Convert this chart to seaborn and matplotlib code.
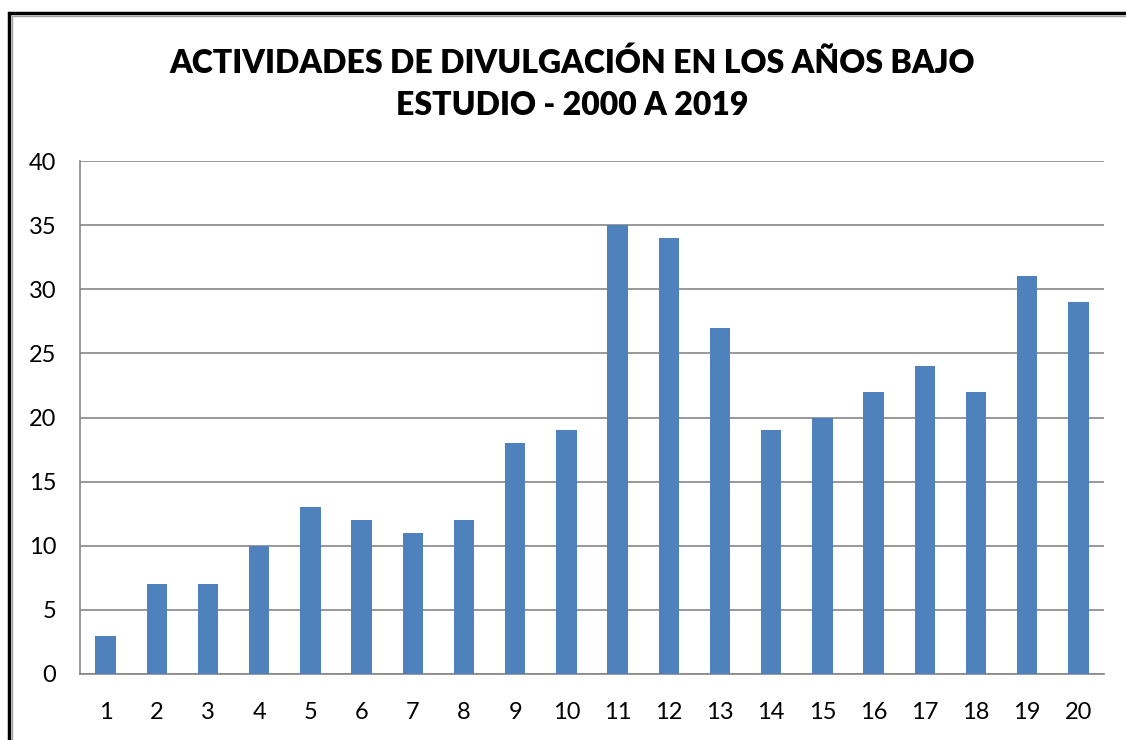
import pandas as pd
import seaborn as sns
import matplotlib.pyplot as plt
from matplotlib.patches import Rectangle

# datos
years = [str(i) for i in range(1, 21)]
actividades = [3, 7, 7, 10, 13, 12, 11, 12, 18, 19, 35, 34, 27, 19, 20, 22, 24, 22, 31, 29]
y_ticks = [0, 5, 10, 15, 20, 25, 30, 35, 40]

df = pd.DataFrame({'anio': years, 'actividades': actividades})

sns.set_style('white')
plt.rcParams['font.family'] = ['Lato', 'DejaVu Sans']

fig = plt.figure(figsize=(11.26, 7.40), dpi=100)
ax = fig.add_axes([80 / 1126, 1 - 674 / 740, (1104 - 80) / 1126, (674 - 161) / 740])

sns.barplot(x='anio', y='actividades', data=df, color='#4F81BD', width=0.4,
            saturation=1, linewidth=0, ax=ax, zorder=3)

ax.set_ylim(0, 40)
ax.set_yticks(y_ticks)
ax.yaxis.grid(True, color='#868686', linewidth=1.2, zorder=0)
ax.set_axisbelow(True)
ax.set_xlabel('')
ax.set_ylabel('')
ax.tick_params(axis='both', length=0, labelsize=17, colors='black')
ax.tick_params(axis='y', pad=17)
ax.tick_params(axis='x', pad=20)
for s in ['top', 'right']:
    ax.spines[s].set_visible(False)
for s in ['left', 'bottom']:
    ax.spines[s].set_color('#868686')
    ax.spines[s].set_linewidth(1.2)

fig.text(572 / 1126, 1 - 84 / 740, 'ACTIVIDADES DE DIVULGACIÓN EN LOS AÑOS BAJO\nESTUDIO - 2000 A 2019',
         ha='center', va='center', fontsize=23, fontweight='heavy', color='black',
         linespacing=1.55)

# marco exterior
fig.patches.append(Rectangle((9 / 1126, -0.05), 1.2, 1 - 13 / 740 + 0.05,
                             transform=fig.transFigure, fill=False,
                             edgecolor='black', linewidth=2.5))
fig.patches.append(Rectangle((12 / 1126, -0.05), 1.2, 1 - 16 / 740 + 0.05,
                             transform=fig.transFigure, fill=False,
                             edgecolor='#a0a0a0', linewidth=1))

fig.savefig('out.png', dpi=100)
